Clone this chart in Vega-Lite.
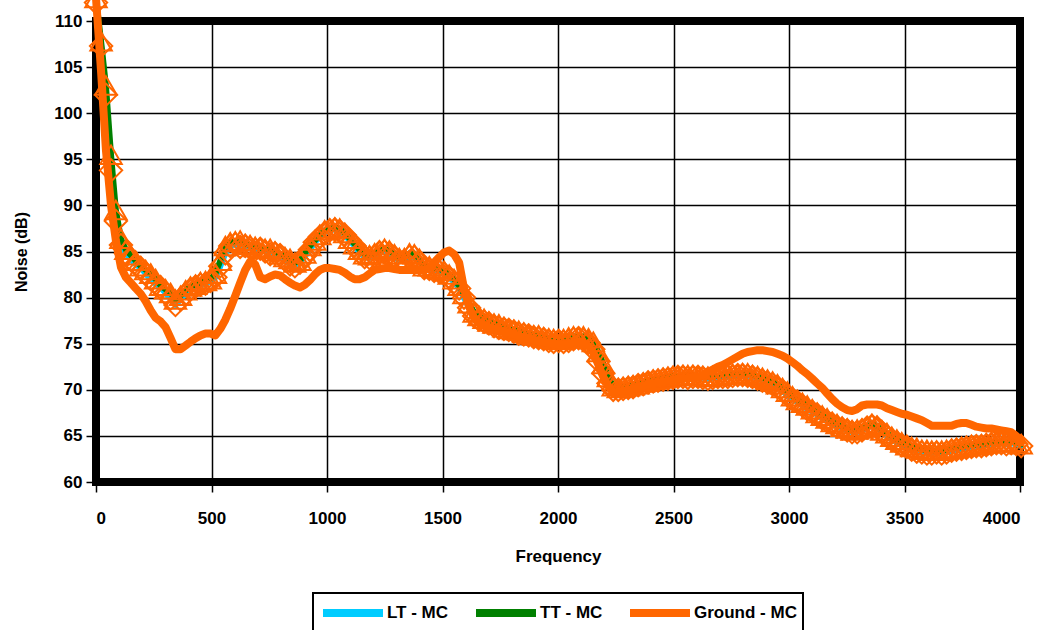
{
  "$schema": "https://vega.github.io/schema/vega-lite/v6.json",
  "width": 924,
  "height": 461,
  "autosize": {"type": "none"},
  "padding": {"left": 96, "top": 21, "right": 34, "bottom": 148},
  "background": "white",
  "config": {
    "font": "Liberation Sans",
    "view": {"stroke": "black", "strokeWidth": 8, "fill": "white"},
    "axis": {
      "labelFont": "Liberation Sans", "labelFontWeight": "bold", "labelFontSize": 17, "labelColor": "black",
      "titleFont": "Liberation Sans", "titleFontWeight": "bold", "titleColor": "black",
      "domain": false, "grid": true, "gridColor": "black", "gridWidth": 1.5, "gridOpacity": 1,
      "ticks": true, "tickColor": "black", "tickSize": 10, "tickWidth": 1.5
    }
  },
  "data": {"values": [
    {"f":0,"lt":112,"tt":112.5,"g":112.5},
    {"f":22,"lt":107.3,"tt":107.8,"g":104.5},
    {"f":43,"lt":102,"tt":103,"g":96},
    {"f":65,"lt":93.8,"tt":95.5,"g":90},
    {"f":86,"lt":88.3,"tt":89.5,"g":86.2},
    {"f":108,"lt":85.7,"tt":86.4,"g":83.3},
    {"f":129,"lt":84.8,"tt":85.2,"g":82.2},
    {"f":151,"lt":84.1,"tt":84.6,"g":81.6},
    {"f":172,"lt":83.6,"tt":84.0,"g":81},
    {"f":194,"lt":83.2,"tt":83.4,"g":80.4},
    {"f":215,"lt":82.6,"tt":83.0,"g":79.6},
    {"f":237,"lt":82.0,"tt":82.6,"g":78.6},
    {"f":258,"lt":81.5,"tt":82.0,"g":77.8},
    {"f":280,"lt":81.1,"tt":81.3,"g":77.4},
    {"f":301,"lt":80.5,"tt":80.9,"g":76.8},
    {"f":323,"lt":79.9,"tt":80.5,"g":75.6},
    {"f":344,"lt":79.2,"tt":79.8,"g":74.4},
    {"f":366,"lt":79.8,"tt":80.2,"g":74.4},
    {"f":388,"lt":80.4,"tt":80.8,"g":74.8},
    {"f":409,"lt":80.9,"tt":81.2,"g":75.2},
    {"f":431,"lt":81.2,"tt":81.4,"g":75.6},
    {"f":452,"lt":81.4,"tt":81.7,"g":75.9},
    {"f":474,"lt":81.5,"tt":81.8,"g":76.1},
    {"f":495,"lt":81.8,"tt":82.0,"g":76.1},
    {"f":517,"lt":82.2,"tt":82.6,"g":75.9},
    {"f":538,"lt":83.4,"tt":84.0,"g":76.6},
    {"f":560,"lt":84.8,"tt":85.6,"g":77.6},
    {"f":581,"lt":85.6,"tt":86.0,"g":78.8},
    {"f":603,"lt":85.8,"tt":86.1,"g":80.2},
    {"f":624,"lt":85.5,"tt":86.2,"g":81.6},
    {"f":646,"lt":85.6,"tt":85.8,"g":83.0},
    {"f":667,"lt":85.4,"tt":85.7,"g":83.9},
    {"f":689,"lt":85.2,"tt":85.5,"g":83.6},
    {"f":711,"lt":85.3,"tt":85.4,"g":82.2},
    {"f":732,"lt":85.0,"tt":85.3,"g":82.0},
    {"f":754,"lt":84.7,"tt":85.3,"g":82.3},
    {"f":775,"lt":84.8,"tt":85.0,"g":82.5},
    {"f":797,"lt":84.6,"tt":84.7,"g":82.4},
    {"f":818,"lt":84.1,"tt":84.4,"g":82.0},
    {"f":840,"lt":83.6,"tt":84.2,"g":81.6},
    {"f":861,"lt":83.4,"tt":83.8,"g":81.3},
    {"f":883,"lt":83.8,"tt":84.0,"g":81.1},
    {"f":904,"lt":84.5,"tt":84.8,"g":81.4},
    {"f":926,"lt":85.2,"tt":85.6,"g":81.9},
    {"f":947,"lt":86.0,"tt":86.2,"g":82.5},
    {"f":969,"lt":86.6,"tt":86.8,"g":83.0},
    {"f":990,"lt":87.0,"tt":87.3,"g":83.2},
    {"f":1012,"lt":87.3,"tt":87.5,"g":83.2},
    {"f":1034,"lt":87.4,"tt":87.6,"g":83.1},
    {"f":1055,"lt":87.2,"tt":87.5,"g":83.0},
    {"f":1077,"lt":86.8,"tt":87.0,"g":82.7},
    {"f":1098,"lt":86.2,"tt":86.4,"g":82.3},
    {"f":1120,"lt":85.6,"tt":85.8,"g":82.0},
    {"f":1141,"lt":84.9,"tt":85.2,"g":82.0},
    {"f":1163,"lt":84.4,"tt":84.7,"g":82.2},
    {"f":1184,"lt":84.3,"tt":84.6,"g":82.6},
    {"f":1206,"lt":84.5,"tt":84.8,"g":83.0},
    {"f":1227,"lt":84.9,"tt":85.1,"g":83.1},
    {"f":1249,"lt":85.0,"tt":85.3,"g":83.2},
    {"f":1270,"lt":84.8,"tt":85.1,"g":83.2},
    {"f":1292,"lt":84.4,"tt":84.7,"g":83.1},
    {"f":1313,"lt":84.0,"tt":84.3,"g":83.0},
    {"f":1335,"lt":84.0,"tt":84.3,"g":83.0},
    {"f":1357,"lt":84.4,"tt":84.8,"g":83.0},
    {"f":1378,"lt":84.4,"tt":84.7,"g":83.0},
    {"f":1400,"lt":83.9,"tt":84.2,"g":83.0},
    {"f":1421,"lt":83.2,"tt":83.4,"g":83.0},
    {"f":1443,"lt":83.1,"tt":83.4,"g":83.2},
    {"f":1464,"lt":82.9,"tt":83.2,"g":83.8},
    {"f":1486,"lt":82.8,"tt":83.1,"g":84.4},
    {"f":1507,"lt":82.6,"tt":82.9,"g":84.9},
    {"f":1529,"lt":82.2,"tt":82.5,"g":85.1},
    {"f":1550,"lt":81.7,"tt":82.0,"g":84.7},
    {"f":1572,"lt":81.0,"tt":81.3,"g":83.8},
    {"f":1593,"lt":80.0,"tt":80.4,"g":81.0},
    {"f":1615,"lt":78.9,"tt":79.4,"g":79.0},
    {"f":1637,"lt":78.0,"tt":78.4,"g":77.8},
    {"f":1658,"lt":77.6,"tt":78.0,"g":77.3},
    {"f":1680,"lt":77.4,"tt":77.7,"g":77.0},
    {"f":1701,"lt":77.2,"tt":77.4,"g":76.8},
    {"f":1723,"lt":76.9,"tt":77.2,"g":76.6},
    {"f":1744,"lt":76.7,"tt":77.1,"g":76.4},
    {"f":1766,"lt":76.6,"tt":76.8,"g":76.3},
    {"f":1787,"lt":76.5,"tt":76.6,"g":76.2},
    {"f":1809,"lt":76.3,"tt":76.5,"g":76.0},
    {"f":1830,"lt":76.1,"tt":76.4,"g":75.8},
    {"f":1852,"lt":76.0,"tt":76.2,"g":75.7},
    {"f":1873,"lt":75.9,"tt":76.0,"g":75.6},
    {"f":1895,"lt":75.7,"tt":75.9,"g":75.4},
    {"f":1916,"lt":75.6,"tt":75.9,"g":75.3},
    {"f":1938,"lt":75.5,"tt":75.7,"g":75.2},
    {"f":1960,"lt":75.3,"tt":75.6,"g":75.1},
    {"f":1981,"lt":75.2,"tt":75.5,"g":75.0},
    {"f":2003,"lt":75.3,"tt":75.4,"g":74.9},
    {"f":2024,"lt":75.2,"tt":75.5,"g":74.9},
    {"f":2046,"lt":75.3,"tt":75.7,"g":75.0},
    {"f":2067,"lt":75.5,"tt":75.8,"g":75.1},
    {"f":2089,"lt":75.6,"tt":75.7,"g":75.2},
    {"f":2110,"lt":75.4,"tt":75.8,"g":75.0},
    {"f":2132,"lt":75.1,"tt":75.6,"g":74.7},
    {"f":2153,"lt":74.4,"tt":75.2,"g":74.0},
    {"f":2175,"lt":73.1,"tt":74.1,"g":72.7},
    {"f":2196,"lt":71.8,"tt":72.8,"g":71.4},
    {"f":2218,"lt":70.7,"tt":71.4,"g":70.4},
    {"f":2239,"lt":70.0,"tt":70.4,"g":69.7},
    {"f":2261,"lt":70.0,"tt":70.2,"g":69.8},
    {"f":2282,"lt":70.1,"tt":70.3,"g":69.9},
    {"f":2304,"lt":70.2,"tt":70.4,"g":70.0},
    {"f":2325,"lt":70.3,"tt":70.5,"g":70.1},
    {"f":2347,"lt":70.5,"tt":70.6,"g":70.3},
    {"f":2369,"lt":70.6,"tt":70.8,"g":70.4},
    {"f":2390,"lt":70.8,"tt":70.9,"g":70.6},
    {"f":2412,"lt":70.9,"tt":71.1,"g":70.7},
    {"f":2433,"lt":71.0,"tt":71.2,"g":70.8},
    {"f":2455,"lt":71.1,"tt":71.3,"g":70.9},
    {"f":2476,"lt":71.2,"tt":71.4,"g":71.0},
    {"f":2498,"lt":71.3,"tt":71.5,"g":71.1},
    {"f":2519,"lt":71.4,"tt":71.5,"g":71.2},
    {"f":2541,"lt":71.4,"tt":71.6,"g":71.2},
    {"f":2562,"lt":71.3,"tt":71.6,"g":71.3},
    {"f":2584,"lt":71.4,"tt":71.6,"g":71.3},
    {"f":2606,"lt":71.4,"tt":71.5,"g":71.4},
    {"f":2627,"lt":71.3,"tt":71.5,"g":71.6},
    {"f":2649,"lt":71.2,"tt":71.4,"g":71.9},
    {"f":2670,"lt":71.3,"tt":71.5,"g":72.2},
    {"f":2692,"lt":71.4,"tt":71.5,"g":72.5},
    {"f":2713,"lt":71.4,"tt":71.6,"g":72.7},
    {"f":2735,"lt":71.4,"tt":71.7,"g":73.0},
    {"f":2756,"lt":71.5,"tt":71.7,"g":73.3},
    {"f":2778,"lt":71.6,"tt":71.7,"g":73.6},
    {"f":2799,"lt":71.6,"tt":71.8,"g":73.9},
    {"f":2821,"lt":71.5,"tt":71.8,"g":74.1},
    {"f":2842,"lt":71.4,"tt":71.6,"g":74.2},
    {"f":2864,"lt":71.2,"tt":71.5,"g":74.3},
    {"f":2885,"lt":71.0,"tt":71.3,"g":74.3},
    {"f":2907,"lt":70.8,"tt":71.1,"g":74.2},
    {"f":2929,"lt":70.6,"tt":70.9,"g":74.1},
    {"f":2950,"lt":70.3,"tt":70.6,"g":73.9},
    {"f":2972,"lt":69.9,"tt":70.2,"g":73.7},
    {"f":2993,"lt":69.4,"tt":69.8,"g":73.4},
    {"f":3015,"lt":69.0,"tt":69.3,"g":73.0},
    {"f":3036,"lt":68.7,"tt":68.9,"g":72.6},
    {"f":3058,"lt":68.3,"tt":68.6,"g":72.1},
    {"f":3079,"lt":67.9,"tt":68.3,"g":71.7},
    {"f":3101,"lt":67.6,"tt":67.9,"g":71.2},
    {"f":3122,"lt":67.3,"tt":67.5,"g":70.7},
    {"f":3144,"lt":66.9,"tt":67.2,"g":70.2},
    {"f":3165,"lt":66.6,"tt":66.9,"g":69.6},
    {"f":3187,"lt":66.3,"tt":66.5,"g":69.0},
    {"f":3208,"lt":66.0,"tt":66.3,"g":68.5},
    {"f":3230,"lt":65.8,"tt":66.0,"g":68.1},
    {"f":3252,"lt":65.6,"tt":65.8,"g":67.8},
    {"f":3273,"lt":65.4,"tt":65.6,"g":67.7},
    {"f":3295,"lt":65.4,"tt":65.7,"g":67.9},
    {"f":3316,"lt":65.6,"tt":65.8,"g":68.3},
    {"f":3338,"lt":65.9,"tt":66.0,"g":68.4},
    {"f":3359,"lt":66.1,"tt":66.3,"g":68.4},
    {"f":3381,"lt":65.9,"tt":66.1,"g":68.4},
    {"f":3402,"lt":65.4,"tt":65.6,"g":68.3},
    {"f":3424,"lt":65.0,"tt":65.3,"g":68.0},
    {"f":3445,"lt":64.6,"tt":64.9,"g":67.8},
    {"f":3467,"lt":64.3,"tt":64.6,"g":67.6},
    {"f":3488,"lt":64.0,"tt":64.3,"g":67.4},
    {"f":3510,"lt":63.8,"tt":64.0,"g":67.3},
    {"f":3531,"lt":63.5,"tt":63.8,"g":67.1},
    {"f":3553,"lt":63.3,"tt":63.7,"g":66.9},
    {"f":3575,"lt":63.2,"tt":63.5,"g":66.7},
    {"f":3597,"lt":63.1,"tt":63.5,"g":66.4},
    {"f":3618,"lt":63.1,"tt":63.4,"g":66.1},
    {"f":3639,"lt":63.2,"tt":63.4,"g":66.1},
    {"f":3661,"lt":63.1,"tt":63.4,"g":66.1},
    {"f":3682,"lt":63.2,"tt":63.5,"g":66.1},
    {"f":3704,"lt":63.4,"tt":63.6,"g":66.1},
    {"f":3725,"lt":63.5,"tt":63.7,"g":66.3},
    {"f":3747,"lt":63.6,"tt":63.8,"g":66.4},
    {"f":3768,"lt":63.7,"tt":63.9,"g":66.4},
    {"f":3790,"lt":63.8,"tt":64.0,"g":66.2},
    {"f":3811,"lt":63.9,"tt":64.0,"g":66.0},
    {"f":3833,"lt":63.9,"tt":64.1,"g":65.9},
    {"f":3854,"lt":64.0,"tt":64.2,"g":65.8},
    {"f":3876,"lt":64.1,"tt":64.3,"g":65.8},
    {"f":3898,"lt":64.2,"tt":64.3,"g":65.7},
    {"f":3919,"lt":64.2,"tt":64.4,"g":65.6},
    {"f":3941,"lt":64.1,"tt":64.4,"g":65.5},
    {"f":3962,"lt":64.2,"tt":64.4,"g":65.4},
    {"f":3984,"lt":64.1,"tt":64.3,"g":65.0},
    {"f":4005,"lt":63.9,"tt":64.1,"g":64.3}
  ]},
  "transform": [{"fold": ["lt", "tt", "g"], "as": ["series", "v"]}],
  "encoding": {
    "x": {"field": "f", "type": "quantitative",
      "scale": {"domain": [0, 4000], "nice": false},
      "axis": {"values": [0,500,1000,1500,2000,2500,3000,3500,4000], "format": "d", "title": "Frequency", "titleFontSize": 17, "labelPadding": 18, "titlePadding": 22}},
    "y": {"field": "v", "type": "quantitative",
      "scale": {"domain": [60, 110], "nice": false, "zero": false},
      "axis": {"values": [60,65,70,75,80,85,90,95,100,105,110], "title": "Noise (dB)", "titleFontSize": 16, "labelPadding": 4, "titlePadding": 24}}
  },
  "layer": [
    {
      "transform": [{"filter": "datum.series != 'g'"}],
      "mark": {"type": "line", "strokeWidth": 6, "strokeCap": "round", "strokeJoin": "round"},
      "encoding": {
        "color": {"field": "series", "type": "nominal",
          "scale": {"domain": ["lt", "tt", "g"], "range": ["#00CCFF", "#008000", "#FF6600"]},
          "legend": {
            "orient": "none", "legendX": 217, "legendY": 572, "direction": "horizontal", "columns": 3,
            "title": null, "symbolType": "M-1,0L5,0", "symbolSize": 400, "symbolStrokeWidth": 8,
            "labelFontSize": 17, "labelFontWeight": "bold", "labelFont": "Liberation Sans", "labelColor": "black",
            "labelExpr": "datum.label == 'lt' ? 'LT - MC' : datum.label == 'tt' ? 'TT - MC' : 'Ground - MC'",
            "strokeColor": "black", "padding": 6, "columnPadding": 11, "labelOffset": 40, "fillColor": "white",
            "encode": {"legend": {"update": {"strokeWidth": {"value": 2}}}}
          }},
        "detail": {"field": "series"}
      }
    },
    {
      "transform": [{"filter": "datum.series == 'lt'"}],
      "mark": {"type": "point", "shape": "diamond", "filled": false, "stroke": "#FF6600", "strokeWidth": 2, "size": 500, "opacity": 1}
    },
    {
      "transform": [{"filter": "datum.series == 'tt'"}],
      "mark": {"type": "point", "shape": "triangle-up", "filled": false, "stroke": "#FF6600", "strokeWidth": 2, "size": 460, "opacity": 1}
    },
    {
      "transform": [{"filter": "datum.series == 'g'"}],
      "mark": {"type": "line", "strokeWidth": 8, "strokeCap": "round", "strokeJoin": "round"},
      "encoding": {
        "color": {"field": "series", "type": "nominal"}
      }
    }
  ]
}
